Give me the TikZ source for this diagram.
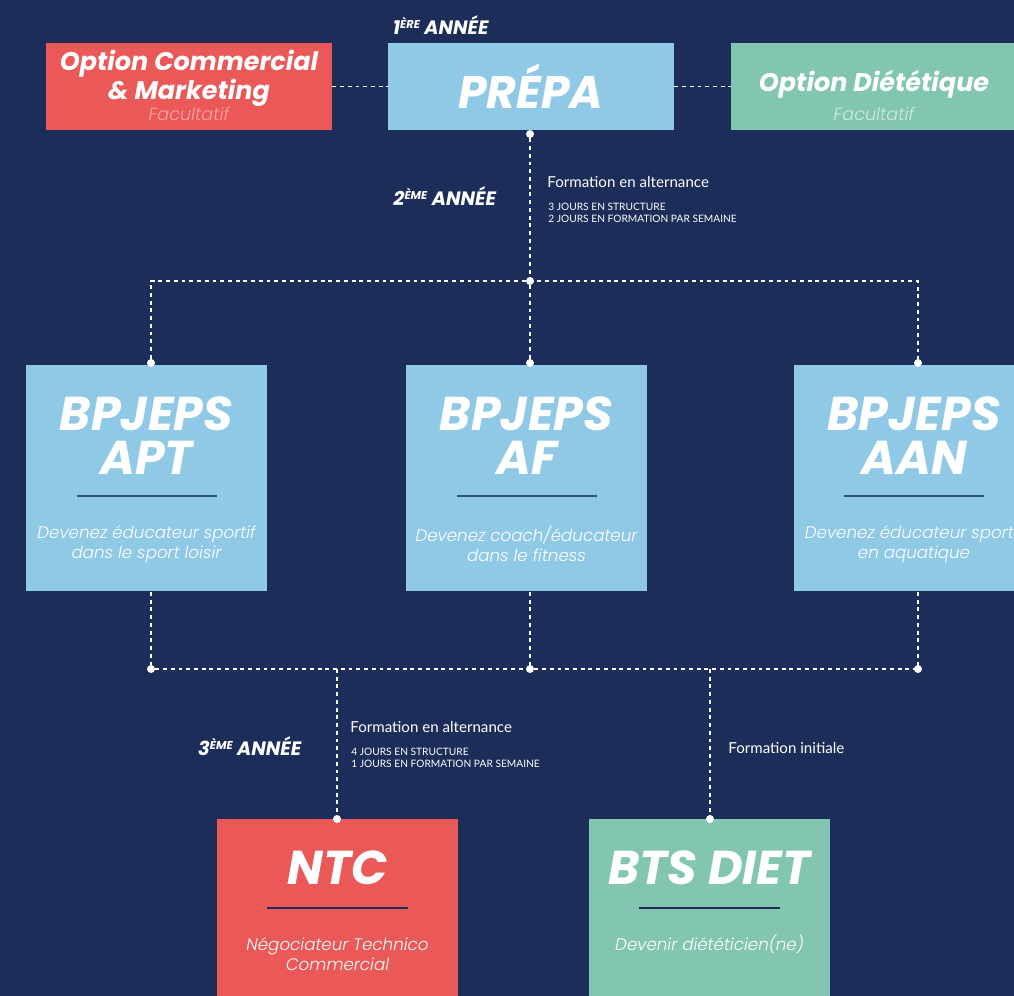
\documentclass[tikz,border=0pt]{standalone}
\usepackage{fontspec}
\setmainfont{Poppins}
\newfontfamily\labfont{Lato}
\newfontfamily\thinfont{Poppins Light}
\usetikzlibrary{positioning}
\definecolor{navy}{HTML}{1B2D58}
\definecolor{sky}{HTML}{8FC9E6}
\definecolor{coral}{HTML}{EB5858}
\definecolor{mint}{HTML}{82C6B1}
\definecolor{rule}{HTML}{2E5183}
\definecolor{pinkish}{HTML}{F6A3A3}
\definecolor{pale}{HTML}{CDEBE0}
\newcommand{\yr}[2]{\textbf{\textit{#1\raisebox{0.55ex}{\fontsize{6.5}{6.5}\selectfont #2} ANNÉE}}}

\begin{document}
\begin{tikzpicture}[x=0.02cm,y=-0.02cm,
    wide/.style={minimum width=5.72cm,minimum height=1.74cm,inner sep=0pt},
    card/.style={minimum width=4.82cm,minimum height=4.52cm,inner sep=0pt,fill=sky},
    low/.style={minimum width=4.82cm,minimum height=4.40cm,inner sep=0pt},
    head/.style={text=white,font=\fontsize{27}{25}\selectfont\bfseries\itshape,align=center},
    sub/.style={text=white,font=\thinfont\fontsize{9.5}{11.5}\selectfont\itshape,align=center},
    dot/.style={circle,fill=white,inner sep=0pt,minimum size=0.16cm},
    link/.style={white,line width=1.1pt,dash pattern=on 2.2pt off 2.2pt},
    lab/.style={text=white,font=\labfont\fontsize{8.6}{9}\selectfont,anchor=west,inner sep=0pt},
    tiny/.style={text=white,font=\labfont\fontsize{5.8}{7.2}\selectfont,anchor=west,align=left,inner sep=0pt}
  ]
  \useasboundingbox (0,0) rectangle (1014,996);
  \fill[navy] (0,0) rectangle (1014,996);

  % first year
  \node[wide,fill=coral] (com) at (189,86.5) {};
  \node[wide,fill=sky] (prepa) at (531,86.5) {};
  \node[wide,fill=mint] (diet) at (874,86.5) {};
  \node[text=white,font=\fontsize{14.5}{12.5}\selectfont\bfseries\itshape,align=center] at (189,78) {Option Commercial\\\& Marketing};
  \node[text=pinkish,font=\thinfont\fontsize{10}{10}\selectfont\itshape] at (189,114) {Facultatif};
  \node[head,font=\fontsize{26}{26}\selectfont\bfseries\itshape] at (531,86) {PRÉPA};
  \node[text=white,font=\fontsize{14.5}{12.5}\selectfont\bfseries\itshape] at (874,84) {Option Diététique};
  \node[text=pale,font=\thinfont\fontsize{10}{10}\selectfont\itshape] at (874,114) {Facultatif};
  \node[text=white,font=\fontsize{11}{11}\selectfont] (y1) at (441,25) {\yr{1}{ÈRE}};
  \draw[link] (com) -- (prepa);
  \draw[link] (prepa) -- (diet);

  % second year
  \foreach \n/\x/\a/\b/\c in {apt/146.5/APT/{Devenez éducateur sportif}/{dans le sport loisir},
                              af/526.5/AF/{Devenez coach/éducateur}/{dans le fitness},
                              aan/914/AAN/{Devenez éducateur sportif}/{en aquatique}}{
    \node[card] (\n) at (\x,478) {};
    \node[head] at (\x,436) {BPJEPS\\\a};
    \draw[rule,line width=1pt] (\x-70,496) -- (\x+70,496);
    \node[sub] at (\x,544) {\b\\\c};
  }
  \node[dot] (p0) at (530,134) {};
  \node[dot] (p1) at (530,281) {};
  \coordinate (pl) at (151,281);
  \coordinate (pr) at (918,281);
  \node[dot] (t1) at (151,363) {};
  \node[dot] (t2) at (530,363) {};
  \node[dot] (t3) at (918,363) {};
  \draw[link] (p0) -- (p1);
  \draw[link] (t1) -- (pl) -- (pr) -- (t3);
  \draw[link] (p1) -- (t2);
  \node[text=white,font=\fontsize{11}{11}\selectfont] (y2) at (445,196) {\yr{2}{ÈME}};
  \node[lab] (f1) at (547,182) {Formation en alternance};
  \node[tiny] at (548,213) {3 JOURS EN STRUCTURE\\2 JOURS EN FORMATION PAR SEMAINE};

  % third year
  \coordinate (b1) at (151,592);
  \coordinate (b2) at (530,592);
  \coordinate (b3) at (918,592);
  \node[dot] (q1) at (151,669) {};
  \node[dot] (q2) at (530,669) {};
  \node[dot] (q3) at (918,669) {};
  \coordinate (qa) at (337,669);
  \coordinate (qb) at (710,669);
  \foreach \i in {1,2,3}{\draw[link] (b\i) -- (q\i);}
  \draw[link] (q1) -- (q2) -- (q3);
  \node[low,fill=coral] (ntc) at (337.5,929) {};
  \node[low,fill=mint] (bts) at (709.5,929) {};
  \node[dot] (r1) at (337,819) {};
  \node[dot] (r2) at (710,819) {};
  \draw[link] (qa) -- (r1);
  \draw[link] (qb) -- (r2);
  \node[head] at (337.5,868) {NTC};
  \node[head] at (709.5,868) {BTS DIET};
  \draw[navy,line width=1pt] (267,908) -- (408,908);
  \draw[navy,line width=1pt] (639,908) -- (780,908);
  \node[sub] at (337.5,954) {Négociateur Technico\\Commercial};
  \node[sub] at (709.5,944) {Devenir diététicien(ne)};
  \node[text=white,font=\fontsize{11}{11}\selectfont] (y3) at (250,746) {\yr{3}{ÈME}};
  \node[lab] (f2) at (350,727) {Formation en alternance};
  \node[tiny] at (351,758) {4 JOURS EN STRUCTURE\\1 JOURS EN FORMATION PAR SEMAINE};
  \node[lab] (f3) at (728,748) {Formation initiale};
\end{tikzpicture}
\end{document}
